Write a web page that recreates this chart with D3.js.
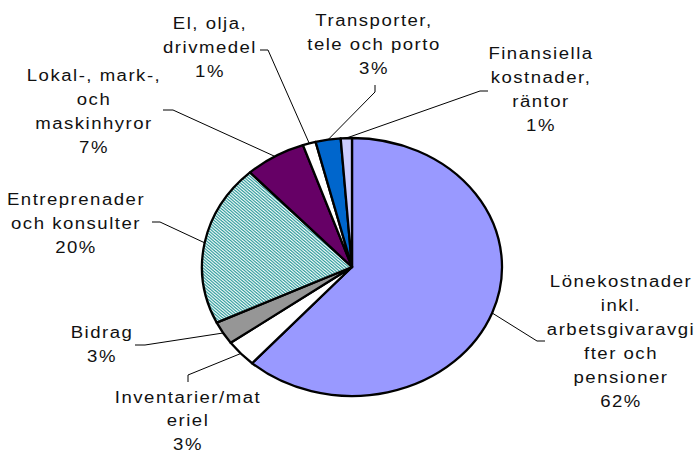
<!DOCTYPE html>
<html>
<head>
<meta charset="utf-8">
<script src="https://cdn.jsdelivr.net/npm/d3@7"></script>
<style>
  body { margin: 0; background: #fff; }
  text { font-family: "Liberation Sans", Arial, sans-serif; font-size: 16px; fill: #111; letter-spacing: 1.3px; }
</style>
</head>
<body>
<script>
// slices, clockwise from 12 o'clock
const categories = ['Lönekostnader', 'Inventarier', 'Bidrag', 'Entreprenader', 'Lokal', 'El', 'Transporter', 'Finansiella']
const values = [61.6, 3.4, 2.9, 20.2, 6.6, 1.4, 2.7, 1.2]
const labelLines = [
	['Lönekostnader', 'inkl.', 'arbetsgivaravgi', 'fter och', 'pensioner'],
	['Inventarier/mat', 'eriel'],
	['Bidrag'],
	['Entreprenader', 'och konsulter'],
	['Lokal-, mark-,', 'och', 'maskinhyror'],
	['El, olja,', 'drivmedel'],
	['Transporter,', 'tele och porto'],
	['Finansiella', 'kostnader,', 'räntor']
]
const colors = ['#9999ff', '#ffffff', '#969696', 'url(#hatch)', '#660066', '#ffffff', '#0066cc', '#ccccff']

// label layout: center x, first baseline, leader elbow, leader end at text
const labelPos = [
	{x: 621, y: 287, elbow: [537, 341], end: [545, 341]},
	{x: 188, y: 403, elbow: [188, 375], end: [188, 382]},
	{x: 102, y: 338, elbow: [145, 345], end: [135, 345]},
	{x: 76, y: 205, elbow: [160, 222], end: [152, 222]},
	{x: 94, y: 81, elbow: [173, 110], end: [163, 110]},
	{x: 210, y: 29, elbow: [268, 50], end: [260, 50]},
	{x: 374, y: 26, elbow: [375, 92], end: [375, 85]},
	{x: 541, y: 59, elbow: [480, 91], end: [488, 91]}
]

const width = 694, height = 452
const cx = 352, cy = 267, rx = 150, ry = 129
const lineStep = 24

const svg = d3.select('body').append('svg')
	.attr('width', width)
	.attr('height', height)

// hatched fill for the Entreprenader slice
const pat = svg.append('defs').append('pattern')
	.attr('id', 'hatch')
	.attr('patternUnits', 'userSpaceOnUse')
	.attr('width', 3).attr('height', 3)
pat.append('rect').attr('width', 3).attr('height', 3).attr('fill', '#ffffff')
pat.append('path')
	.attr('d', 'M0,0L3,3M-1,2L1,4M2,-1L4,1')
	.attr('stroke', '#2a9a9a').attr('stroke-width', 1.1)

const total = d3.sum(values)
const pie = d3.pie().sort(null).value(d => d)
const arcs = pie(values)
const arc = d3.arc().innerRadius(0).outerRadius(ry)

// the pie is stretched sideways, like the original
const g = svg.append('g')
	.attr('transform', 'translate(' + cx + ',' + cy + ') scale(' + (rx / ry) + ',1)')

g.selectAll('path')
	.data(arcs)
	.join('path')
	.attr('d', arc)
	.attr('fill', (d, i) => colors[i])
	.attr('stroke', '#000')
	.attr('stroke-width', 2.3)
	.attr('stroke-linejoin', 'round')
	.attr('vector-effect', 'non-scaling-stroke')

// leader lines from the slice edge (mid angle) to the label
svg.append('g').selectAll('polyline')
	.data(arcs)
	.join('polyline')
	.attr('points', (d, i) => {
		const a = (d.startAngle + d.endAngle) / 2
		const p = labelPos[i]
		const sx = cx + Math.sin(a) * rx
		const sy = cy - Math.cos(a) * ry
		return [[sx, sy], p.elbow, p.end].map(q => q.join(',')).join(' ')
	})
	.attr('fill', 'none')
	.attr('stroke', '#000')
	.attr('stroke-width', 1)

// labels
const labels = svg.append('g').selectAll('text')
	.data(arcs)
	.join('text')
	.attr('transform', (d, i) => 'translate(' + labelPos[i].x + ',' + labelPos[i].y + ') scale(1.16,1)')
	.attr('text-anchor', 'middle')

labels.each(function(d, i) {
	const t = d3.select(this)
	const lines = labelLines[i].concat([Math.round(d.value / total * 100) + '%'])
	lines.forEach((s, k) => {
		t.append('tspan').attr('x', 0).attr('y', k * (i == 1 ? 23.5 : lineStep)).text(s)
	})
})
</script>
</body>
</html>
